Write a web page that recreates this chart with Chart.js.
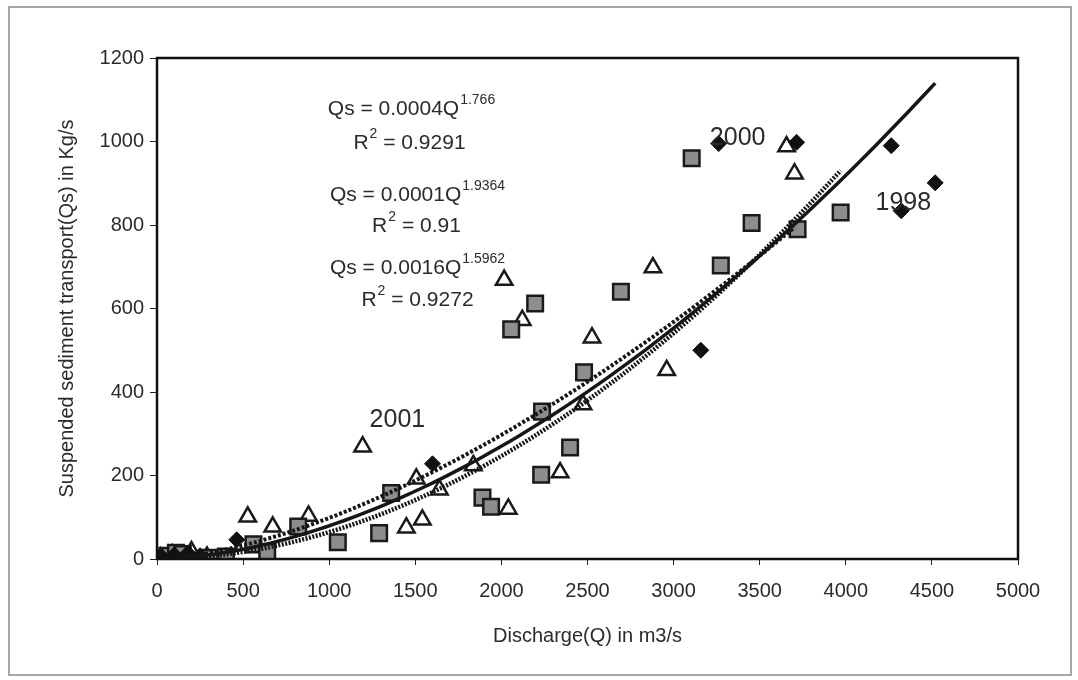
<!DOCTYPE html>
<html>
<head>
<meta charset="utf-8">
<script src="https://cdn.jsdelivr.net/npm/chart.js@4.4.0/dist/chart.umd.min.js"></script>
<style>
html, body { margin: 0; padding: 0; background: #fff; }
</style>
</head>
<body>
<canvas id="chart" width="1078" height="680"></canvas>
<script>
// Discharge Q (m3/s) and suspended sediment transport Qs (kg/s)
var q1998  = [30, 100, 180, 250, 463, 1600, 3158, 3262, 3714, 4264, 4322, 4519];
var qs1998 = [5, 10, 14, 8, 46, 228, 500, 995, 998, 990, 834, 901];

var q2000  = [60, 110, 150, 310, 400, 560, 640, 820, 1050, 1290, 1360, 1890, 1940, 2057, 2196, 2231, 2236, 2399, 2480, 2694, 3105, 3274, 3453, 3720, 3970];
var qs2000 = [8, 15, 12, 3, 6, 35, 17, 78, 40, 62, 158, 147, 125, 550, 612, 202, 353, 267, 447, 640, 960, 703, 805, 790, 830];

var q2001  = [20, 90, 200, 290, 527, 672, 880, 1194, 1448, 1506, 1541, 1640, 1837, 2016, 2040, 2121, 2341, 2474, 2526, 2880, 2960, 3656, 3702];
var qs2001 = [3, 10, 18, 5, 101, 77, 103, 269, 75, 192, 94, 166, 224, 668, 120, 572, 207, 370, 530, 698, 452, 988, 923];

// power trendlines printed on the chart: Qs = a * Q^b
var trendYears = ['1998', '2000', '2001'];
var trendA = [0.0004, 0.0001, 0.0016];
var trendB = [1.766, 1.9364, 1.5962];
var trendA_txt = ['0.0004', '0.0001', '0.0016'];
var trendB_txt = ['1.766', '1.9364', '1.5962'];
var trendR2 = ['0.9291', '0.91', '0.9272'];

var xTicks = [0, 500, 1000, 1500, 2000, 2500, 3000, 3500, 4000, 4500, 5000];
var yTicks = [0, 200, 400, 600, 800, 1000, 1200];

var FONT = '"Liberation Sans", Arial, sans-serif';

function pairs(xs, ys) {
    return xs.map(function(x, i) { return {x: x, y: ys[i]}; });
}

function trendLine(a, b, xs) {
    var lo = Math.min.apply(null, xs), hi = Math.max.apply(null, xs), pts = [];
    for (var i = 0; i <= 80; i++) {
        var x = lo + (hi - lo) * i / 80;
        pts.push({x: x, y: a * Math.pow(x, b)});
    }
    return pts;
}

function trendSet(idx, xs, dash, width) {
    return {
        label: 'Power (' + trendYears[idx] + ')',
        data: trendLine(trendA[idx], trendB[idx], xs),
        showLine: true,
        borderColor: '#161616',
        borderWidth: width,
        borderDash: dash,
        pointRadius: 0,
        tension: 0,
        fill: false
    };
}

// plot frame, outer frame and the text annotations
var decorPlugin = {
    id: 'decor',
    afterDraw: function(chart) {
        var ctx = chart.ctx, a = chart.chartArea;
        var xs = chart.scales.x, ys = chart.scales.y;
        ctx.save();
        ctx.strokeStyle = '#111';
        ctx.lineWidth = 2.5;
        ctx.strokeRect(a.left, a.top, a.right - a.left, a.bottom - a.top);

        ctx.strokeStyle = '#8a8a8a';
        ctx.lineWidth = 1.5;
        ctx.strokeRect(9, 7, 1062, 668);

        // year labels
        ctx.fillStyle = '#2b2b2b';
        ctx.font = '25px ' + FONT;
        ctx.textAlign = 'center';
        ctx.textBaseline = 'middle';
        ctx.fillText('2001', xs.getPixelForValue(1396), ys.getPixelForValue(332));
        ctx.fillText('2000', xs.getPixelForValue(3372), ys.getPixelForValue(1007));
        ctx.fillText('1998', xs.getPixelForValue(4334), ys.getPixelForValue(853));

        // equations
        var eqCenters = [[411, 109, 409, 143], [417, 195, 416, 226], [417, 268, 417, 300]];
        for (var i = 0; i < 3; i++) {
            var c = eqCenters[i];
            drawSup(ctx, 'Qs = ' + trendA_txt[i] + 'Q', trendB_txt[i], '', c[0], c[1]);
            drawSup(ctx, 'R', '2', ' = ' + trendR2[i], c[2], c[3]);
        }
        ctx.restore();
    }
};

function drawSup(ctx, base, sup, tail, cx, cy) {
    ctx.font = '21px ' + FONT;
    var w1 = ctx.measureText(base).width, w3 = ctx.measureText(tail).width;
    ctx.font = '14px ' + FONT;
    var w2 = ctx.measureText(sup).width;
    var x = cx - (w1 + w2 + w3) / 2;
    ctx.textAlign = 'left';
    ctx.textBaseline = 'middle';
    ctx.fillStyle = '#2b2b2b';
    ctx.font = '21px ' + FONT;
    ctx.fillText(base, x, cy);
    ctx.font = '14px ' + FONT;
    ctx.fillText(sup, x + w1 + 1, cy - 9);
    ctx.font = '21px ' + FONT;
    ctx.fillText(tail, x + w1 + w2 + 1, cy);
}

function plainTick(v) { return String(v); }

new Chart(document.getElementById('chart').getContext('2d'), {
    type: 'scatter',
    data: {
        datasets: [
            trendSet(0, q1998, [], 3.5),
            trendSet(1, q2000, [2, 1.5], 4.5),
            trendSet(2, q2001, [3, 2], 4),
            {
                label: '1998',
                data: pairs(q1998, qs1998),
                pointStyle: 'rectRot',
                pointRadius: 8,
                backgroundColor: '#111',
                borderColor: '#111',
                borderWidth: 1
            },
            {
                label: '2000',
                data: pairs(q2000, qs2000),
                pointStyle: 'rect',
                pointRadius: 11,
                backgroundColor: '#8d8d8d',
                borderColor: '#1a1a1a',
                borderWidth: 2.5
            },
            {
                label: '2001',
                data: pairs(q2001, qs2001),
                pointStyle: 'triangle',
                pointRadius: 9.5,
                backgroundColor: '#fff',
                borderColor: '#1a1a1a',
                borderWidth: 2.5
            }
        ]
    },
    options: {
        responsive: false,
        animation: false,
        devicePixelRatio: 1,
        layout: { padding: { left: 50, top: 58, right: 60, bottom: 20 } },
        plugins: {
            legend: { display: false },
            tooltip: { enabled: false }
        },
        scales: {
            x: {
                type: 'linear',
                min: 0,
                max: 5000,
                afterBuildTicks: function(scale) {
                    scale.ticks = xTicks.map(function(v) { return {value: v}; });
                },
                afterFit: function(scale) { scale.height = 680 - 559 - 20; },
                grid: { drawOnChartArea: false, drawTicks: true, tickLength: 6, color: '#222' },
                border: { display: false },
                ticks: { color: '#2b2b2b', font: { family: FONT, size: 20 }, padding: 14, maxRotation: 0, callback: plainTick },
                title: {
                    display: true,
                    text: 'Discharge(Q) in m3/s',
                    color: '#2b2b2b',
                    font: { family: FONT, size: 20 },
                    padding: { top: 0, bottom: 12 }
                }
            },
            y: {
                type: 'linear',
                min: 0,
                max: 1200,
                afterBuildTicks: function(scale) {
                    scale.ticks = yTicks.map(function(v) { return {value: v}; });
                },
                afterFit: function(scale) { scale.width = 157 - 50; },
                grid: { drawOnChartArea: false, drawTicks: true, tickLength: 7, color: '#222' },
                border: { display: false },
                ticks: { color: '#2b2b2b', font: { family: FONT, size: 20 }, padding: 6, callback: plainTick },
                title: {
                    display: true,
                    text: 'Suspended sediment transport(Qs) in Kg/s',
                    color: '#2b2b2b',
                    font: { family: FONT, size: 20 },
                    padding: { top: 5, bottom: 0 }
                }
            }
        }
    },
    plugins: [decorPlugin]
});
</script>
</body>
</html>
